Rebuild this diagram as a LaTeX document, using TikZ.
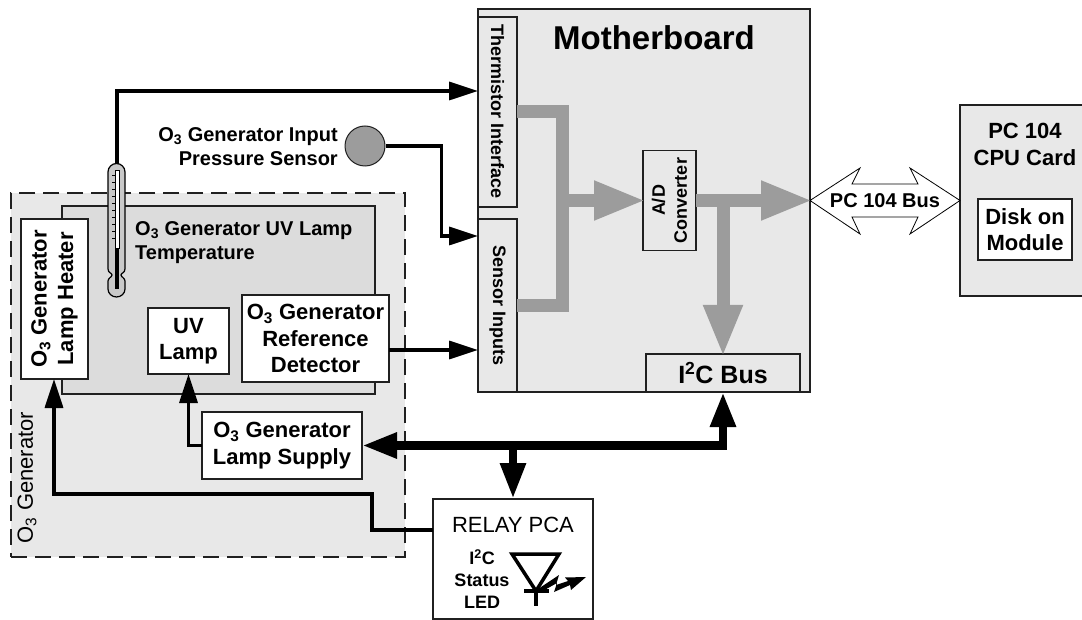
\documentclass[tikz,border=0pt]{standalone}
\usepackage{fontspec}
\usetikzlibrary{arrows.meta}
\setmainfont{Liberation Sans}
\definecolor{panelgray}{HTML}{E8E8E8}
\definecolor{lampgray}{HTML}{DCDCDC}
\definecolor{busgray}{HTML}{9C9C9C}
\definecolor{edgegray}{HTML}{202020}
\newcommand{\othree}{O\textsubscript{3}}
\newcommand{\itwoc}{I\textsuperscript{2}C}
\tikzset{
  panel/.style={draw=edgegray, line width=1.2pt, inner sep=0pt, outer sep=0pt, anchor=north west},
  whitebox/.style={panel, fill=white, line width=1.6pt, align=center, font=\bfseries\fontsize{22}{26.5}\selectfont},
  smalltext/.style={inner sep=0pt, align=center, font=\bfseries\fontsize{18}{22}\selectfont},
  wire/.style={line width=3.4pt, -{Triangle[length=29pt,width=18pt]}},
  graybus/.style={draw=busgray, line width=13pt},
  graytip/.style={graybus, shorten >=-3pt, -{Triangle[length=52pt,width=36pt]}},
  blackbus/.style={line width=8.5pt}
}

\begin{document}
\begin{tikzpicture}[x=1pt, y=-1pt]
  \useasboundingbox (0,0) rectangle (1082,620);

  % O3 generator housing
  \node[panel, fill=panelgray, dashed, dash pattern=on 16pt off 8pt, line width=2pt, minimum width=394pt, minimum height=364pt] (generator) at (11,193) {};
  \node[rotate=90, inner sep=0pt, font=\fontsize{22}{26}\selectfont] (generatortext) at (27,477.5) {\othree{} Generator};
  \node[panel, fill=lampgray, line width=1.6pt, minimum width=313pt, minimum height=188pt] (lamphouse) at (62,206) {};
  \node[anchor=north west, inner sep=0pt, align=left, font=\bfseries\fontsize{20}{24}\selectfont] (lamptemp) at (135,221) {\othree{} Generator UV Lamp\\Temperature};

  % Motherboard
  \node[panel, fill=panelgray, minimum width=332pt, minimum height=383pt] (mother) at (478,9) {};
  \node[inner sep=0pt, font=\bfseries\fontsize{33}{38}\selectfont] (mothertext) at (654,38) {Motherboard};
  \node[panel, fill=panelgray, minimum width=39pt, minimum height=190pt] (therm) at (478,17) {};
  \node[smalltext, rotate=-90] (thermtext) at (therm.center) {Thermistor Interface};
  \node[panel, fill=panelgray, minimum width=39pt, minimum height=173pt] (sensor) at (478,219) {};
  \node[smalltext, rotate=-90] (sensortext) at (sensor.center) {Sensor Inputs};

  % Gray data paths
  \coordinate (merge) at (562.5,200.5);
  \coordinate (split) at (723,200.5);
  \draw[graybus] (therm.east) -| (merge) |- (sensor.east);
  \node[panel, fill=panelgray, minimum width=53pt, minimum height=100pt] (adc) at (643,150.5) {};
  \node[smalltext, rotate=90] (adctext) at (adc.center) {A/D\\Converter};
  \node[panel, fill=panelgray, minimum width=154pt, minimum height=38pt, font=\bfseries\fontsize{25}{30}\selectfont] (i2c) at (646,354) {\itwoc{} Bus};
  \draw[graytip] (merge) -- (adc.west);
  \draw[graytip] (adc.east) -- (adc.east -| mother.east);
  \draw[graytip] (split) -- (split |- i2c.north);

  % PC 104 side
  \node[panel, fill=panelgray, minimum width=123pt, minimum height=191pt] (cpu) at (960,105) {};
  \node[inner sep=0pt, align=center, font=\bfseries\fontsize{22}{27}\selectfont] (cputext) at (1025,144) {PC 104\\CPU Card};
  \node[whitebox, minimum width=94pt, minimum height=61pt] (disk) at (978,199) {Disk on\\Module};
  \draw[fill=white, line width=0.8pt] (810,200.5) -- (860,168) -- (852,184) -- (918,184) -- (910,168) -- (960,200.5)
    -- (910,234) -- (918,217) -- (852,217) -- (860,234) -- cycle;
  \node[inner sep=0pt, font=\bfseries\fontsize{20}{24}\selectfont] (pcbus) at (885,200.5) {PC 104 Bus};

  % Lamp parts
  \node[whitebox, minimum width=67pt, minimum height=160pt] (heater) at (21,219) {};
  \node[whitebox, draw=none, fill=none, anchor=center, rotate=90] (heatertext) at (heater.center) {\othree{} Generator\\Lamp Heater};
  \node[whitebox, minimum width=81pt, minimum height=66pt] (uvlamp) at (148,308) {UV\\Lamp};
  \node[whitebox, minimum width=147pt, minimum height=87pt] (refdet) at (242,295) {\othree{} Generator\\Reference\\Detector};
  \node[whitebox, minimum width=160pt, minimum height=67pt] (supply) at (202,412) {\othree{} Generator\\Lamp Supply};
  \node[panel, fill=white, minimum width=160pt, minimum height=120pt] (relay) at (433,499) {};
  \node[inner sep=0pt, font=\fontsize{22}{26}\selectfont] (relaytext) at (513,525) {RELAY PCA};
  \node[smalltext] (ledtext) at (482,579) {\itwoc\\Status\\LED};

  % LED symbol
  \draw[line width=3.5pt] (512,554) -- (559,554) -- (536,591) -- cycle;
  \draw[line width=3.5pt] (524,591) -- (549,591) (536,591) -- (536,606);
  \fill (538,589) -- (559,575) -- (556,585) -- (568,581) -- (565,577.5) -- (586,577) -- (571,590) -- (570,585) -- (554,592) -- (557,583) -- (541,592) -- cycle;

  % Thermometer
  \draw[fill=lampgray!80!gray, line width=1.2pt] (108,172) arc[start angle=180, end angle=360, radius=8.5] -- (125,269)
    .. controls (125,273) and (121,273) .. (121,275) .. controls (121,277) and (125,278) .. (125,281) -- (125,289)
    arc[start angle=0, end angle=180, x radius=8.5, y radius=8] -- (108,281) .. controls (108,278) and (112,277) .. (112,275)
    .. controls (112,273) and (108,273) .. (108,269) -- cycle;
  \fill[white] (115,170) rectangle (119,248);
  \draw[line width=0.5pt] (115,170) rectangle (119,248);
  \fill (114.5,248) rectangle (119,289);
  \foreach \tick in {175,182,...,238} {
    \draw[line width=0.8pt] (112,\tick) -- (115,\tick);
  }
  \coordinate (thermtop) at (117,164);
  \node[inner sep=0pt, align=right, anchor=east, font=\bfseries\fontsize{20}{24}\selectfont] (presstext) at (338,147) {\othree{} Generator Input\\Pressure Sensor};
  \node[circle, draw=edgegray, fill=busgray, line width=1pt, minimum size=40pt, inner sep=0pt] (press) at (365,146) {};

  % Signal wires
  \coordinate (thermin) at ([yshift=21pt]therm.west);
  \coordinate (sensorin) at ([yshift=69.5pt]sensor.west);
  \coordinate (refout) at ([yshift=-11.5pt]refdet.east);
  \coordinate (relayout) at ([yshift=29pt]relay.west);
  \coordinate (heaterfeed) at (54,494);
  \coordinate (uvfeed) at (188.5,445.5);
  \draw[wire] (thermtop) |- (thermin);
  \draw[wire] (press.east) -- ++(56,0) |- (sensorin);
  \draw[wire] (refout) -- (refout -| sensor.west);
  \draw[wire] (relayout) -| (372,494) -- (heaterfeed) -- (heaterfeed |- heater.south);
  \draw[wire] (supply.west) -- (uvfeed) -- (uvfeed |- uvlamp.south);

  % Black bus
  \coordinate (busdrop) at (513,445.5);
  \draw[blackbus, -{Triangle[length=36pt,width=24pt]}] (busdrop) -- (relay.north);
  \draw[blackbus, {Triangle[length=35pt,width=24pt]}-{Triangle[length=35pt,width=24pt]}] (supply.east) -| (i2c.south);
\end{tikzpicture}
\end{document}
